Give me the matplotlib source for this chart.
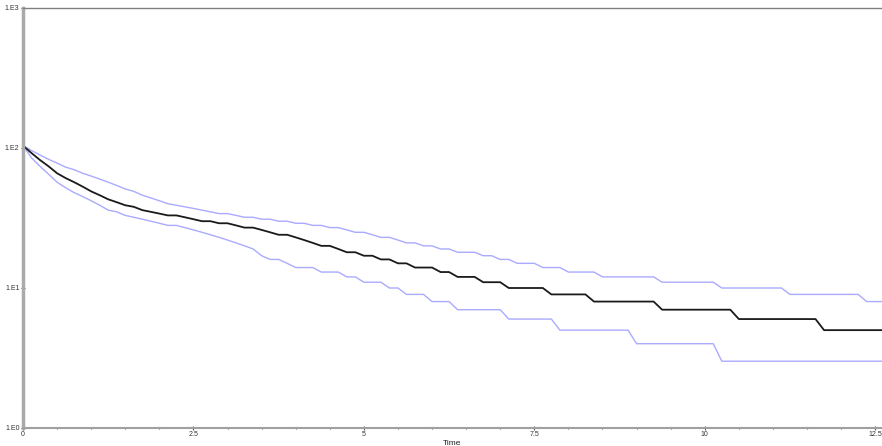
import matplotlib
matplotlib.use("Agg")
import matplotlib.pyplot as plt
from matplotlib.ticker import FixedLocator, FuncFormatter, LogLocator, MultipleLocator
import numpy as np

# sampling step of the simulation output (time units)
time_step = 0.125

mean_values = [104, 92, 82, 74, 66, 61, 57, 53, 49, 46, 43, 41, 39, 38, 36, 35,
               34, 33, 33, 32, 31, 30, 30, 29, 29, 28, 27, 27, 26, 25, 24, 24,
               23, 22, 21, 20, 20, 19, 18, 18, 17, 17, 16, 16, 15, 15, 14, 14,
               14, 13, 13, 12, 12, 12, 11, 11, 11,
               10, 10, 10, 10, 10,
               9, 9, 9, 9, 9,
               8, 8, 8, 8, 8, 8, 8, 8,
               7, 7, 7, 7, 7, 7, 7, 7, 7,
               6, 6, 6, 6, 6, 6, 6, 6, 6, 6,
               5, 5, 5, 5, 5, 5, 5, 5]

upper_values = [104, 96, 89, 83, 78, 73, 70, 66, 63, 60, 57, 54, 51, 49, 46, 44,
                42, 40, 39, 38, 37, 36, 35, 34, 34, 33, 32, 32, 31, 31, 30, 30,
                29, 29, 28, 28, 27, 27, 26, 25, 25, 24, 23, 23, 22, 21, 21, 20,
                20, 19, 19, 18, 18, 18, 17, 17, 16, 16, 15, 15, 15, 14, 14, 14,
                13, 13, 13, 13,
                12, 12, 12, 12, 12, 12, 12,
                11, 11, 11, 11, 11, 11, 11,
                10, 10, 10, 10, 10, 10, 10, 10,
                9, 9, 9, 9, 9, 9, 9, 9, 9,
                8, 8, 8]

lower_values = [104, 85, 74, 65, 57, 52, 48, 45, 42, 39, 36, 35, 33, 32, 31, 30,
                29, 28, 28, 27, 26, 25, 24, 23, 22, 21, 20, 19, 17, 16, 16, 15,
                14, 14, 14, 13, 13, 13, 12, 12, 11, 11, 11, 10, 10, 9, 9, 9,
                8, 8, 8,
                7, 7, 7, 7, 7, 7,
                6, 6, 6, 6, 6, 6,
                5, 5, 5, 5, 5, 5, 5, 5, 5,
                4, 4, 4, 4, 4, 4, 4, 4, 4, 4,
                3, 3, 3, 3, 3, 3, 3, 3, 3, 3, 3, 3, 3, 3, 3, 3, 3, 3, 3, 3]

x_ticks = [0, 2.5, 5, 7.5, 10, 12.5]
x_tick_labels = ["0", "2.5", "5", "7.5", "10", "12.5"]
y_ticks = [1, 10, 100, 1000]

times = np.arange(len(mean_values)) * time_step

plt.rcParams['font.family'] = ['Liberation Sans', 'DejaVu Sans']

fig = plt.figure(figsize=(8.82, 4.46), dpi=100)
ax = fig.add_axes([23 / 882, 18 / 446, 859 / 882, 420 / 446])

ax.plot(times, upper_values, color='#aaaaff', linewidth=1.0)
ax.plot(times, lower_values, color='#aaaaff', linewidth=1.0)
ax.plot(times, mean_values, color='#1a1a1a', linewidth=1.3)

ax.set_yscale('log')
ax.set_ylim(1, 1000)
ax.set_xlim(0, 12.6)

ax.yaxis.set_major_locator(FixedLocator(y_ticks))
ax.yaxis.set_major_formatter(FuncFormatter(lambda v, pos: "1.E%d" % round(np.log10(v))))
ax.yaxis.set_minor_locator(LogLocator(base=10, subs=range(2, 10)))
ax.yaxis.set_minor_formatter(FuncFormatter(lambda v, pos: ""))

ax.xaxis.set_major_locator(FixedLocator(x_ticks))
ax.set_xticklabels(x_tick_labels)
ax.xaxis.set_minor_locator(MultipleLocator(0.5))

ax.tick_params(axis='both', which='major', labelsize=5, length=3, width=0.8,
               color='#555555', labelcolor='#333333', pad=1, direction='inout')
ax.tick_params(axis='both', which='minor', length=2, width=0.8,
               color='#555555', direction='inout')

ax.spines['left'].set_color('#aaaaaa')
ax.spines['left'].set_linewidth(2.5)
ax.spines['bottom'].set_color('#a0a0a0')
ax.spines['bottom'].set_linewidth(1.5)
ax.spines['top'].set_color('#808080')
ax.spines['top'].set_linewidth(1.0)
ax.spines['right'].set_visible(False)

ax.set_xlabel("Time", fontsize=6, color='#222222', labelpad=1)

fig.savefig("out.png", dpi=100)
